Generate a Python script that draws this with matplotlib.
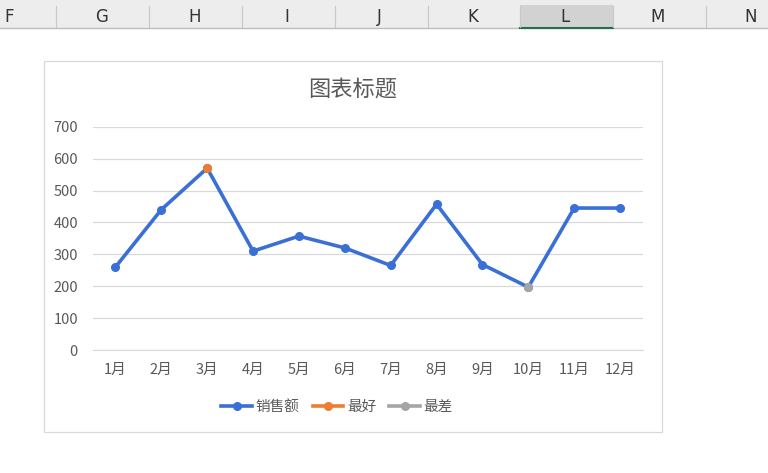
import matplotlib
matplotlib.use("Agg")
import matplotlib.pyplot as plt
from matplotlib.patches import Rectangle
import numpy as np

plt.rcParams['font.family'] = ['Noto Sans CJK SC', 'DejaVu Sans']

months = ["1月", "2月", "3月", "4月", "5月", "6月", "7月", "8月", "9月", "10月", "11月", "12月"]
sales = [260, 440, 570, 310, 357, 320, 265, 457, 268, 197, 445, 445]
best = [np.nan, np.nan, 570, np.nan, np.nan, np.nan, np.nan, np.nan, np.nan, np.nan, np.nan, np.nan]
worst = [np.nan, np.nan, np.nan, np.nan, np.nan, np.nan, np.nan, np.nan, np.nan, 197, np.nan, np.nan]
yticks = [0, 100, 200, 300, 400, 500, 600, 700]
col_letters = ["F", "G", "H", "I", "J", "K", "L", "M", "N"]

W, H = 768, 473
fig = plt.figure(figsize=(W / 100, H / 100), dpi=100)
fig.patch.set_facecolor("#FFFFFF")

def fx(px):
    return px / W

def fy(py):
    return 1 - py / H

# Excel column header band
fig.patches.append(Rectangle((0, fy(28)), 1, 28 / H, transform=fig.transFigure,
                             facecolor="#EDEDED", edgecolor="none", zorder=-3))
fig.patches.append(Rectangle((fx(520), fy(28)), fx(613) - fx(520), 23 / H, transform=fig.transFigure,
                             facecolor="#D2D2D2", edgecolor="none", zorder=-2))
fig.add_artist(plt.Line2D([0, 1], [fy(28.5), fy(28.5)], transform=fig.transFigure,
                          color="#BDBDBD", lw=1, zorder=-1))
fig.add_artist(plt.Line2D([fx(520), fx(613)], [fy(28), fy(28)], transform=fig.transFigure,
                          color="#217346", lw=1.5, zorder=-1))
for b in [56, 149, 242, 335, 428, 520, 613, 706]:
    fig.add_artist(plt.Line2D([fx(b), fx(b)], [fy(27), fy(6)], transform=fig.transFigure,
                              color="#C8C8C8", lw=0.8, zorder=-1))
for i, letter in enumerate(col_letters):
    xp = 9 + i * 92.7
    fig.text(fx(xp), fy(17), letter, ha="center", va="center", fontsize=12,
             color="#333333", family=["Liberation Sans Narrow", "DejaVu Sans"])

# Chart area border
fig.patches.append(Rectangle((fx(44), fy(432)), fx(662) - fx(44), (432 - 61) / H,
                             transform=fig.transFigure, facecolor="white",
                             edgecolor="#D9D9D9", lw=0.9, zorder=-3))

# Plot area
x0, x1 = 92.5, 643
y_top, y_bot = 126.7, 350
ax = fig.add_axes([fx(x0), fy(y_bot), fx(x1) - fx(x0), (y_bot - y_top) / H])
ax.set_zorder(2)
ax.set_facecolor("none")
x = np.arange(len(months))
ax.plot(x, sales, color="#3A6FD6", lw=2.6, marker="o", markersize=5.5, label="销售额",
        solid_joinstyle="round", zorder=3)
ax.plot(x, best, color="#ED7D31", lw=2.6, marker="o", markersize=5.5, label="最好", zorder=4)
ax.plot(x, worst, color="#A5A5A5", lw=2.6, marker="o", markersize=5.5, label="最差", zorder=4)

ax.set_xlim(-0.5, len(months) - 0.5)
ax.set_ylim(0, 700)
ax.set_yticks(yticks)
ax.set_yticklabels([str(v) for v in yticks])
ax.set_xticks(x)
ax.set_xticklabels(months)
ax.grid(axis="y", color="#D9D9D9", lw=0.9)
ax.set_axisbelow(True)
for s in ["top", "right", "left"]:
    ax.spines[s].set_visible(False)
ax.spines["bottom"].set_color("#D9D9D9")
ax.tick_params(axis="both", length=0, colors="#595959", labelsize=10.5)
ax.tick_params(axis="y", pad=10.5)
ax.tick_params(axis="x", pad=9)

fig.text(fx(353), fy(89), "图表标题", ha="center", va="center", fontsize=16, color="#595959")

leg = ax.legend(loc="center", bbox_to_anchor=(fx(337), fy(407)), bbox_transform=fig.transFigure,
                ncol=3, frameon=False, fontsize=10.5, handlelength=2.1, handletextpad=0.25,
                columnspacing=0.9)
for t in leg.get_texts():
    t.set_color("#595959")

fig.savefig("out.png", dpi=100)
